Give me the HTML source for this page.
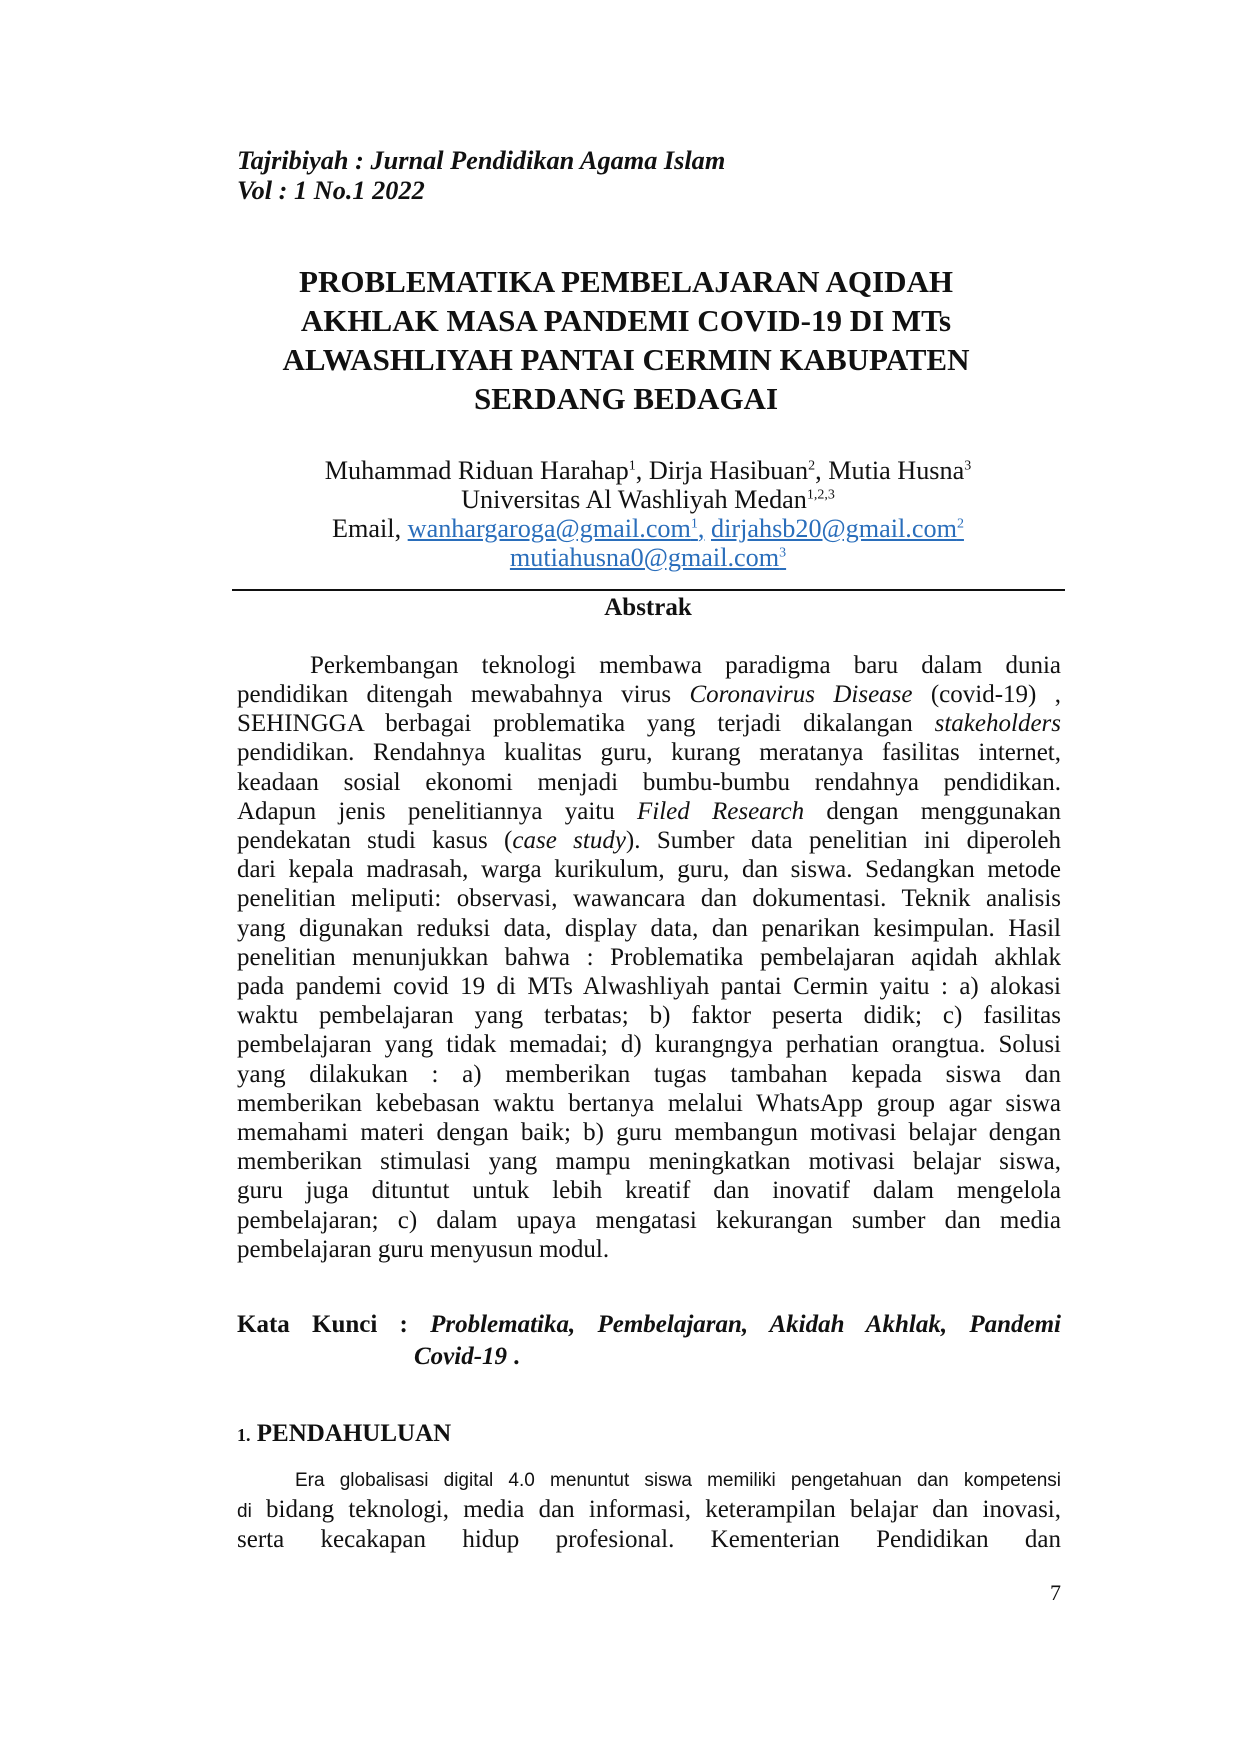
<!DOCTYPE html>
<html><head><meta charset="utf-8">
<style>
body{margin:0;background:#fff;}
.page{position:relative;width:1240px;height:1754px;background:#fff;font-family:"Liberation Serif",serif;color:#111;}
.a{position:absolute;white-space:nowrap;}
.j{position:absolute;left:237px;width:824px;text-align:justify;text-align-last:justify;white-space:nowrap;font-size:25px;}
.c{position:absolute;left:0;width:1240px;text-align:center;}
.hd{font-style:italic;font-weight:bold;font-size:26.3px;left:237px;}
.t{font-weight:bold;font-size:31px;}
.au{font-size:26.2px;}
a{color:#2a6ebb;text-decoration:underline;}
sup{font-size:14px;}
</style></head><body><div class="page">
<div class="a hd" style="top:146px">Tajribiyah : Jurnal Pendidikan Agama Islam</div>
<div class="a hd" style="top:176px">Vol : 1 No.1 2022</div>
<div class="c t" style="top:264px;left:6px">PROBLEMATIKA PEMBELAJARAN AQIDAH</div>
<div class="c t" style="top:303px;left:6px">AKHLAK MASA PANDEMI COVID-19 DI MTs</div>
<div class="c t" style="top:342px;left:6px">ALWASHLIYAH PANTAI CERMIN KABUPATEN</div>
<div class="c t" style="top:381px;left:6px">SERDANG BEDAGAI</div>
<div class="c au" style="top:456px;left:28px">Muhammad Riduan Harahap<sup>1</sup>, Dirja Hasibuan<sup>2</sup>, Mutia Husna<sup>3</sup></div>
<div class="c au" style="top:485px;left:28px">Universitas Al Washliyah Medan<sup>1,2,3</sup></div>
<div class="c au" style="top:514px;left:28px">Email, <a>wanhargaroga@gmail.com<sup>1</sup>,</a> <a>dirjahsb20@gmail.com<sup>2</sup></a></div>
<div class="c au" style="top:543px;left:28px"><a>mutiahusna0@gmail.com<sup>3</sup></a></div>
<div class="a" style="top:589px;left:232px;width:833px;height:2px;background:#111"></div>
<div class="c" style="top:594px;left:28px;font-weight:bold;font-size:25px">Abstrak</div>
<div class="j" style="top:652px;padding-left:73px;width:751px">Perkembangan teknologi membawa paradigma baru dalam dunia</div>
<div class="j" style="top:681px">pendidikan ditengah mewabahnya virus <i>Coronavirus Disease</i> (covid-19) ,</div>
<div class="j" style="top:710px">SEHINGGA berbagai problematika yang terjadi dikalangan <i>stakeholders</i></div>
<div class="j" style="top:739px">pendidikan. Rendahnya kualitas guru, kurang meratanya fasilitas internet,</div>
<div class="j" style="top:769px">keadaan sosial ekonomi menjadi bumbu-bumbu rendahnya pendidikan.</div>
<div class="j" style="top:798px">Adapun jenis penelitiannya yaitu <i>Filed Research</i> dengan menggunakan</div>
<div class="j" style="top:827px">pendekatan studi kasus (<i>case study</i>). Sumber data penelitian ini diperoleh</div>
<div class="j" style="top:856px">dari kepala madrasah, warga kurikulum, guru, dan siswa. Sedangkan metode</div>
<div class="j" style="top:885px">penelitian meliputi: observasi, wawancara dan dokumentasi. Teknik analisis</div>
<div class="j" style="top:915px">yang digunakan reduksi data, display data, dan penarikan kesimpulan. Hasil</div>
<div class="j" style="top:944px">penelitian menunjukkan bahwa : Problematika pembelajaran aqidah akhlak</div>
<div class="j" style="top:973px">pada pandemi covid 19 di MTs Alwashliyah pantai Cermin yaitu : a) alokasi</div>
<div class="j" style="top:1002px">waktu pembelajaran yang terbatas; b) faktor peserta didik; c) fasilitas</div>
<div class="j" style="top:1031px">pembelajaran yang tidak memadai; d) kurangngya perhatian orangtua. Solusi</div>
<div class="j" style="top:1061px">yang dilakukan : a) memberikan tugas tambahan kepada siswa dan</div>
<div class="j" style="top:1090px">memberikan kebebasan waktu bertanya melalui WhatsApp group agar siswa</div>
<div class="j" style="top:1119px">memahami materi dengan baik; b) guru membangun motivasi belajar dengan</div>
<div class="j" style="top:1148px">memberikan stimulasi yang mampu meningkatkan motivasi belajar siswa,</div>
<div class="j" style="top:1177px">guru juga dituntut untuk lebih kreatif dan inovatif dalam mengelola</div>
<div class="j" style="top:1207px">pembelajaran; c) dalam upaya mengatasi kekurangan sumber dan media</div>
<div class="a" style="top:1236px;left:237px;font-size:25px">pembelajaran guru menyusun modul.</div>
<div class="j" style="top:1311px;font-weight:bold">Kata Kunci : <i>Problematika, Pembelajaran, Akidah Akhlak, Pandemi</i></div>
<div class="a" style="top:1343px;left:414px;font-size:25px;font-weight:bold"><i>Covid-19</i> .</div>
<div class="a" style="top:1420px;left:237px;font-size:25px;font-weight:bold"><span style="font-size:18px">1.</span> PENDAHULUAN</div>
<div class="j" style="top:1470px;padding-left:58px;width:766px;font-family:'Liberation Sans',sans-serif;font-size:19px">Era globalisasi digital 4.0 menuntut siswa memiliki pengetahuan dan kompetensi</div>
<div class="j" style="top:1496px"><span style="font-family:'Liberation Sans',sans-serif;font-size:19px">di</span> bidang teknologi, media dan informasi, keterampilan belajar dan inovasi,</div>
<div class="j" style="top:1526px">serta kecakapan hidup profesional. Kementerian Pendidikan dan</div>
<div class="a" style="top:1580px;left:1050px;font-size:22px">7</div>
</div></body></html>
